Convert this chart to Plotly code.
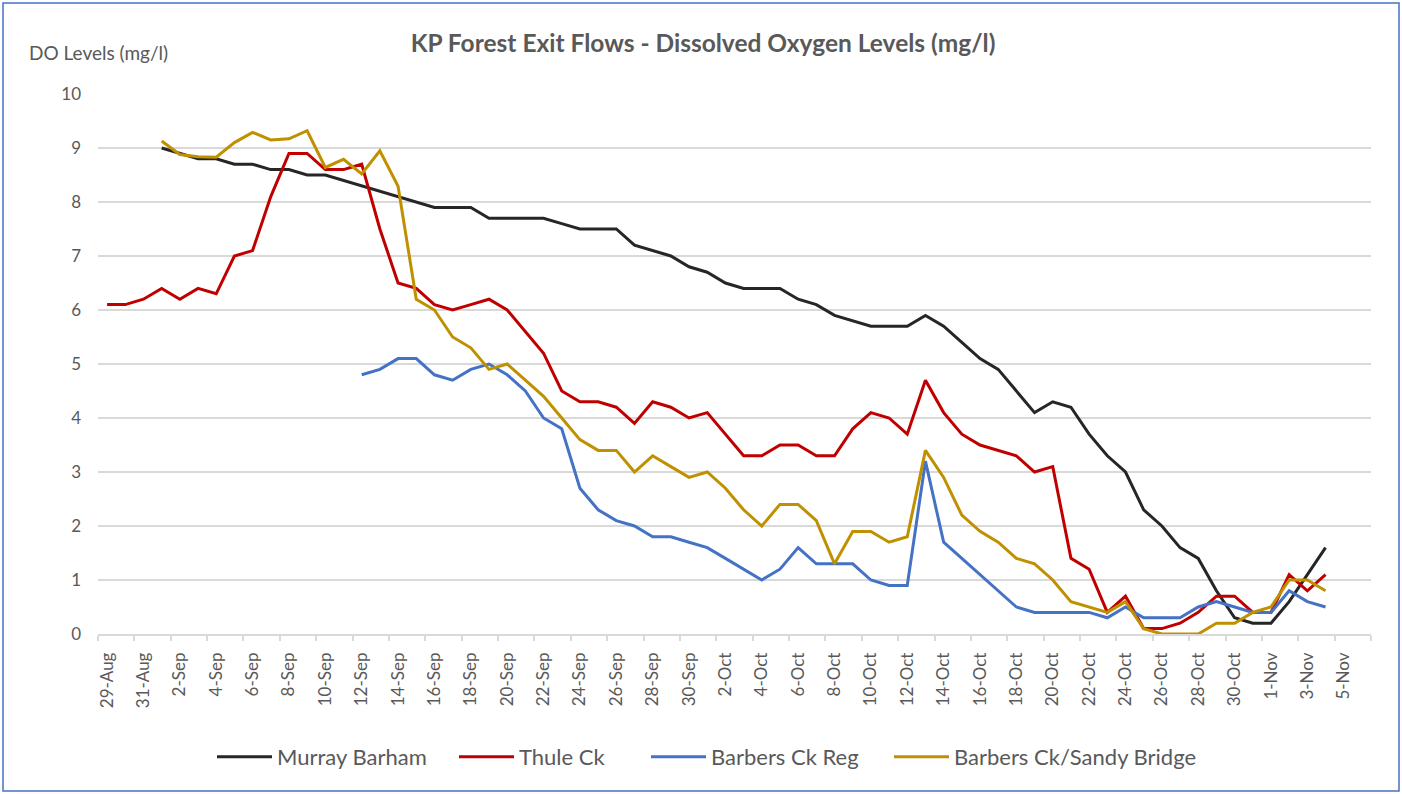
import pandas as pd
import plotly.graph_objects as go

# ---- data ----
start_date = "2019-08-29"
n_days = 68
dates = pd.date_range(start_date, periods=n_days, freq="D")

murray_barham = [None, None, None,
    9.0, 8.9, 8.8, 8.8, 8.7, 8.7, 8.6, 8.6, 8.5, 8.5, 8.4, 8.3, 8.2, 8.1, 8.0,
    7.9, 7.9, 7.9, 7.7, 7.7, 7.7, 7.7, 7.6, 7.5, 7.5, 7.5, 7.2, 7.1, 7.0, 6.8,
    6.7, 6.5, 6.4, 6.4, 6.4, 6.2, 6.1, 5.9, 5.8, 5.7, 5.7, 5.7, 5.9, 5.7, 5.4,
    5.1, 4.9, 4.5, 4.1, 4.3, 4.2, 3.7, 3.3, 3.0, 2.3, 2.0, 1.6, 1.4, 0.8, 0.3,
    0.2, 0.2, 0.6, 1.1, 1.6]

thule_ck = [
    6.1, 6.1, 6.2, 6.4, 6.2, 6.4, 6.3, 7.0, 7.1, 8.1, 8.9, 8.9, 8.6, 8.6, 8.7,
    7.5, 6.5, 6.4, 6.1, 6.0, 6.1, 6.2, 6.0, 5.6, 5.2, 4.5, 4.3, 4.3, 4.2, 3.9,
    4.3, 4.2, 4.0, 4.1, 3.7, 3.3, 3.3, 3.5, 3.5, 3.3, 3.3, 3.8, 4.1, 4.0, 3.7,
    4.7, 4.1, 3.7, 3.5, 3.4, 3.3, 3.0, 3.1, 1.4, 1.2, 0.4, 0.7, 0.1, 0.1, 0.2,
    0.4, 0.7, 0.7, 0.4, 0.4, 1.1, 0.8, 1.1]

barbers_ck_reg = [None] * 14 + [
    4.8, 4.9, 5.1, 5.1, 4.8, 4.7, 4.9, 5.0, 4.8, 4.5, 4.0, 3.8, 2.7, 2.3, 2.1,
    2.0, 1.8, 1.8, 1.7, 1.6, 1.4, 1.2, 1.0, 1.2, 1.6, 1.3, 1.3, 1.3, 1.0, 0.9,
    0.9, 3.2, 1.7, 1.4, 1.1, 0.8, 0.5, 0.4, 0.4, 0.4, 0.4, 0.3, 0.5, 0.3, 0.3,
    0.3, 0.5, 0.6, 0.5, 0.4, 0.4, 0.8, 0.6, 0.5]

barbers_sandy_bridge = [None, None, None,
    9.13, 8.88, 8.84, 8.83, 9.1, 9.29, 9.15, 9.17, 9.32, 8.64, 8.79, 8.52, 8.95,
    8.29, 6.2, 6.0, 5.5, 5.3, 4.9, 5.0, 4.7, 4.4, 4.0, 3.6, 3.4, 3.4, 3.0, 3.3,
    3.1, 2.9, 3.0, 2.7, 2.3, 2.0, 2.4, 2.4, 2.1, 1.3, 1.9, 1.9, 1.7, 1.8, 3.4,
    2.9, 2.2, 1.9, 1.7, 1.4, 1.3, 1.0, 0.6, 0.5, 0.4, 0.6, 0.1, 0.0, 0.0, 0.0,
    0.2, 0.2, 0.4, 0.5, 1.0, 1.0, 0.8]

series_names = ["Murray Barham", "Thule Ck", "Barbers Ck Reg", "Barbers Ck/Sandy Bridge"]
series_values = [murray_barham, thule_ck, barbers_ck_reg, barbers_sandy_bridge]
series_colors = ["#262626", "#C00000", "#4472C4", "#BF9000"]

title_text = "KP Forest Exit Flows - Dissolved Oxygen Levels (mg/l)"
y_title_text = "DO Levels (mg/l)"
y_ticks = list(range(0, 11))

# ---- layout geometry (pixels) ----
W, H = 1402, 794
L, R, T, B = 98, 31, 94, 160
pw, ph = W - L - R, H - T - B

def px_x(px):
    return (px - L) / pw

def px_y(py):
    return (H - B - py) / ph

FONT = "Lato, 'Open Sans', sans-serif"
GREY_TXT = "#595959"
DAY_MS = 86400000

# legend line-sample start positions (px) for each entry
legend_line_starts = [218, 460, 652, 895]
legend_ids = ["legend", "legend2", "legend3", "legend4"]

fig = go.Figure()
for name, vals, col, lid in zip(series_names, series_values, series_colors, legend_ids):
    fig.add_trace(go.Scatter(
        x=dates, y=vals, name=name, mode="lines",
        line=dict(color=col, width=3), connectgaps=False, legend=lid,
    ))

legend_layouts = {}
for lid, lx in zip(legend_ids, legend_line_starts):
    legend_layouts[lid] = dict(
        orientation="h", x=px_x(lx - 6), xanchor="left",
        y=px_y(757), yanchor="middle",
        font=dict(family=FONT, size=22, color=GREY_TXT),
        itemwidth=55, bgcolor="rgba(0,0,0,0)",
    )

fig.update_layout(
    width=W, height=H,
    margin=dict(l=L, r=R, t=T, b=B, pad=0),
    paper_bgcolor="white", plot_bgcolor="white",
    font=dict(family=FONT, color=GREY_TXT, size=14),
    title=dict(text="<b>" + title_text + "</b>", x=px_x(703), xref="paper",
               y=1 - 43 / H, yanchor="middle", xanchor="center",
               font=dict(family=FONT, size=24.5, color=GREY_TXT)),
    showlegend=True,
    xaxis=dict(
        type="date",
        range=["2019-08-28 12:00", "2019-11-06 12:00"],
        tickmode="linear", tick0=start_date, dtick=2 * DAY_MS,
        tickformat="%-d-%b", tickangle=-90,
        ticks="", showgrid=False,
        showline=True, linecolor="#d9d9d9", linewidth=1.5,
        tickfont=dict(family=FONT, size=17, color=GREY_TXT),
        ticklabelstandoff=10,
        minor=dict(ticks="outside", tick0="2019-08-28 12:00", dtick=2 * DAY_MS,
                   ticklen=5, tickcolor="#d9d9d9", tickwidth=1.5, showgrid=False),
        zeroline=False,
    ),
    yaxis=dict(
        range=[0, 10], tickmode="array", tickvals=y_ticks,
        ticktext=[str(v) for v in y_ticks],
        showgrid=True, gridcolor="#d9d9d9", gridwidth=1.5,
        showline=False, zeroline=False, ticks="",
        tickfont=dict(family=FONT, size=17, color=GREY_TXT),
        ticklabelstandoff=16,
    ),
    annotations=[dict(
        text=y_title_text, xref="paper", yref="paper",
        x=px_x(27), y=px_y(52), xanchor="left", yanchor="middle",
        showarrow=False, font=dict(family=FONT, size=19, color=GREY_TXT),
    )],
    shapes=[dict(
        type="rect", xref="paper", yref="paper",
        x0=px_x(3), x1=px_x(1399), y0=px_y(791), y1=px_y(3),
        line=dict(color="#4472C4", width=1.5), fillcolor="rgba(0,0,0,0)",
        layer="below",
    )],
    **legend_layouts,
)

fig.write_html(
    "out.html",
    config={"displayModeBar": False},
    post_script="document.body.style.margin='0';document.body.style.overflow='hidden';",
)
